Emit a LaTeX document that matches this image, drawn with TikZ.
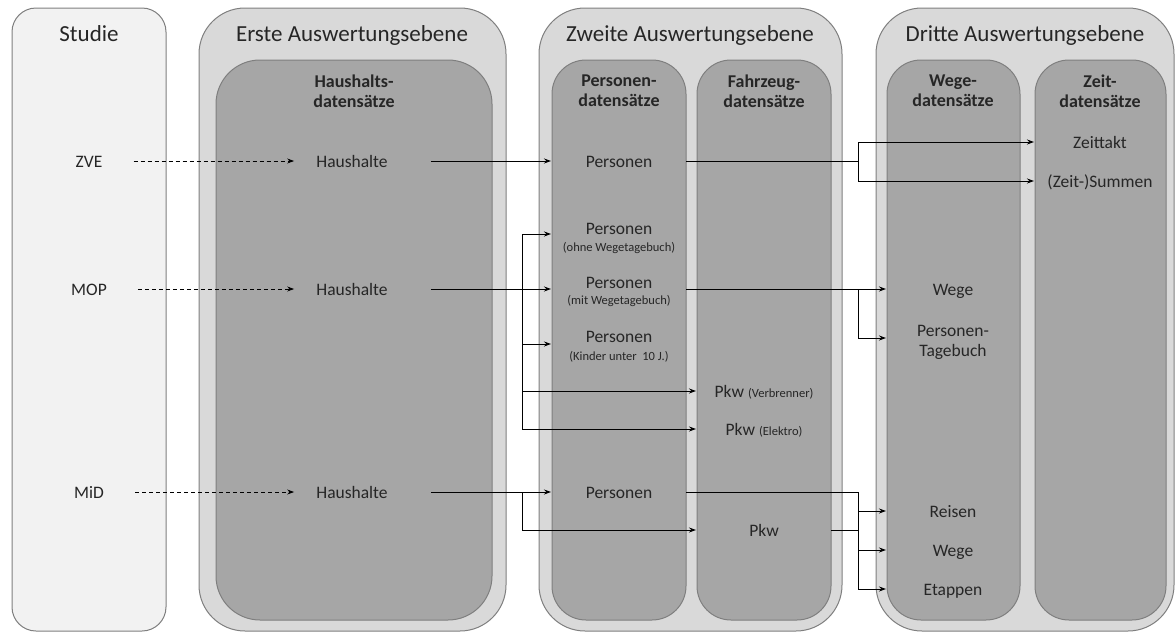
\documentclass[tikz,border=0pt]{standalone}
\usepackage{fontspec}
\setmainfont{Carlito}
\usetikzlibrary{arrows.meta}
\definecolor{studiefill}{HTML}{F2F2F2}
\definecolor{outerfill}{HTML}{D9D9D9}
\definecolor{innerfill}{HTML}{A6A6A6}
\definecolor{edgegray}{HTML}{7F7F7F}
\definecolor{txtc}{HTML}{262626}
\begin{document}
\begin{tikzpicture}[x=1pt,y=-1pt,
  panel/.style={draw=edgegray,line width=1pt,anchor=north west,inner sep=0pt,outer sep=0pt},
  studiebox/.style={panel,fill=studiefill,rounded corners=24pt},
  outerbox/.style={panel,fill=outerfill,rounded corners=46pt},
  innerbox/.style={panel,fill=innerfill,rounded corners=34pt},
  bigbox/.style={innerbox,rounded corners=44pt},
  hdr/.style={font=\fontsize{23}{27}\selectfont,text=txtc,inner sep=0pt,anchor=base},
  sub/.style={font=\fontsize{18}{20}\selectfont\bfseries,text=txtc,inner sep=0pt,align=center},
  lbl/.style={font=\fontsize{17.5}{20}\selectfont,text=txtc,inner sep=0pt,anchor=base},
  sml/.style={font=\fontsize{12.5}{14}\selectfont,text=txtc,inner sep=0pt,anchor=base},
  line/.style={line width=1pt,black},
  conn/.style={line,-{Stealth[length=7pt,width=5pt]},shorten >=1pt},
  dsh/.style={conn,dash pattern=on 4pt off 3pt}
]
\useasboundingbox (0,0) rectangle (1176,632);
% panels
\node[studiebox,minimum width=154pt,minimum height=623pt] (studie) at (12,8) {};
\node[outerbox,minimum width=307pt,minimum height=623pt] (erste) at (199,8) {};
\node[outerbox,minimum width=303pt,minimum height=623pt] (zweite) at (539,8) {};
\node[outerbox,minimum width=298pt,minimum height=623pt] (dritte) at (876,8) {};
\node[bigbox,minimum width=276pt,minimum height=560pt] (innerE) at (216,60) {};
\node[innerbox,minimum width=134pt,minimum height=560pt] (innerP) at (552,60) {};
\node[innerbox,minimum width=134pt,minimum height=560pt] (innerF) at (697,60) {};
\node[innerbox,minimum width=133pt,minimum height=560pt] (innerW) at (887,60) {};
\node[innerbox,minimum width=131pt,minimum height=560pt] (innerZ) at (1035,60) {};
% headers
\node[hdr] (hS) at (89,41) {Studie};
\node[hdr] (hE) at (352,41) {Erste Auswertungsebene};
\node[hdr] (hZ) at (690,41) {Zweite Auswertungsebene};
\node[hdr] (hD) at (1025,41) {Dritte Auswertungsebene};
\node[sub] (sE) at (354,91) {Haushalts-\\datensätze};
\node[sub] (sP) at (619,91) {Personen-\\datensätze};
\node[sub] (sF) at (764,91) {Fahrzeug-\\datensätze};
\node[sub] (sW) at (953,91) {Wege-\\datensätze};
\node[sub] (sZ) at (1100,91) {Zeit-\\datensätze};
% labels
\node[lbl] (zve) at (89,167) {ZVE};
\node[lbl] (mop) at (89,295) {MOP};
\node[lbl] (mid) at (89,498) {MiD};
\node[lbl] (hh1) at (352,167) {Haushalte};
\node[lbl] (hh2) at (352,295) {Haushalte};
\node[lbl] (hh3) at (352,498) {Haushalte};
\node[lbl] (p1) at (619,167) {Personen};
\node[lbl] (pA) at (619,234) {Personen};
\node[sml] (pAs) at (619,251) {(ohne Wegetagebuch)};
\node[lbl] (pB) at (619,288) {Personen};
\node[sml] (pBs) at (619,304) {(mit Wegetagebuch)};
\node[lbl] (pC) at (619,342) {Personen};
\node[sml] (pCs) at (619,360) {(Kinder unter\ \ 10 J.)};
\node[lbl] (pkwV) at (764,397) {Pkw {\fontsize{12.5}{14}\selectfont(Verbrenner)}};
\node[lbl] (pkwE) at (764,435) {Pkw {\fontsize{12.5}{14}\selectfont(Elektro)}};
\node[lbl] (pM) at (619,498) {Personen};
\node[lbl] (pkw) at (764,536) {Pkw};
\node[lbl] (zt) at (1100,148) {Zeittakt};
\node[lbl] (zs) at (1100,187) {(Zeit-)Summen};
\node[lbl] (wg1) at (953,295) {Wege};
\node[lbl] (ptA) at (953,336) {Personen-};
\node[lbl] (ptB) at (953,356) {Tagebuch};
\node[lbl] (rs) at (953,517) {Reisen};
\node[lbl] (wg2) at (953,556) {Wege};
\node[lbl] (et) at (953,595) {Etappen};
% rows and columns of the connector grid
\coordinate (rZ) at (0,161);
\coordinate (rZt) at (0,142);
\coordinate (rZs) at (0,181);
\coordinate (rM) at (0,289);
\coordinate (rA) at (0,234);
\coordinate (rC) at (0,344);
\coordinate (rV) at (0,391);
\coordinate (rE) at (0,429);
\coordinate (rPT) at (0,338);
\coordinate (rD) at (0,492);
\coordinate (rPkw) at (0,530);
\coordinate (rR) at (0,511);
\coordinate (rW) at (0,550);
\coordinate (rEt) at (0,589);
\coordinate (colA) at (522,0);
\coordinate (colB) at (858,0);
% ZVE
\draw[dsh,shorten <=31pt,shorten >=22pt] (rZ -| zve.east) -- (rZ -| hh1.west);
\draw[conn,shorten <=43pt] (rZ -| hh1.east) -- (rZ -| innerP.west);
\draw[conn] (rZ -| innerP.east) -| (rZt -| colB) -- (rZt -| innerZ.west);
\draw[conn] (rZ -| colB) |- (rZs -| innerZ.west);
% MOP
\draw[dsh,shorten <=31pt,shorten >=22pt] (rM -| mop.east) -- (rM -| hh2.west);
\draw[conn,shorten <=43pt] (rM -| hh2.east) -- (rM -| innerP.west);
\draw[line] (rA -| colA) -- (rE -| colA);
\draw[conn] (rA -| colA) -- (rA -| innerP.west);
\draw[conn] (rC -| colA) -- (rC -| innerP.west);
\draw[conn] (rV -| colA) -- (rV -| innerF.west);
\draw[conn] (rE -| colA) -- (rE -| innerF.west);
\draw[conn] (rM -| innerP.east) -- (rM -| innerW.west);
\draw[conn] (rM -| colB) |- (rPT -| innerW.west);
% MiD
\draw[dsh,shorten <=31pt,shorten >=22pt] (rD -| mid.east) -- (rD -| hh3.west);
\draw[conn,shorten <=43pt] (rD -| hh3.east) -- (rD -| innerP.west);
\draw[conn] (rD -| colA) |- (rPkw -| innerF.west);
\draw[line] (rD -| innerP.east) -- (rD -| colB) -- (rEt -| colB);
\draw[line] (rPkw -| innerF.east) -- (rPkw -| colB);
\draw[conn] (rR -| colB) -- (rR -| innerW.west);
\draw[conn] (rW -| colB) -- (rW -| innerW.west);
\draw[conn] (rEt -| colB) -- (rEt -| innerW.west);
\end{tikzpicture}
\end{document}
